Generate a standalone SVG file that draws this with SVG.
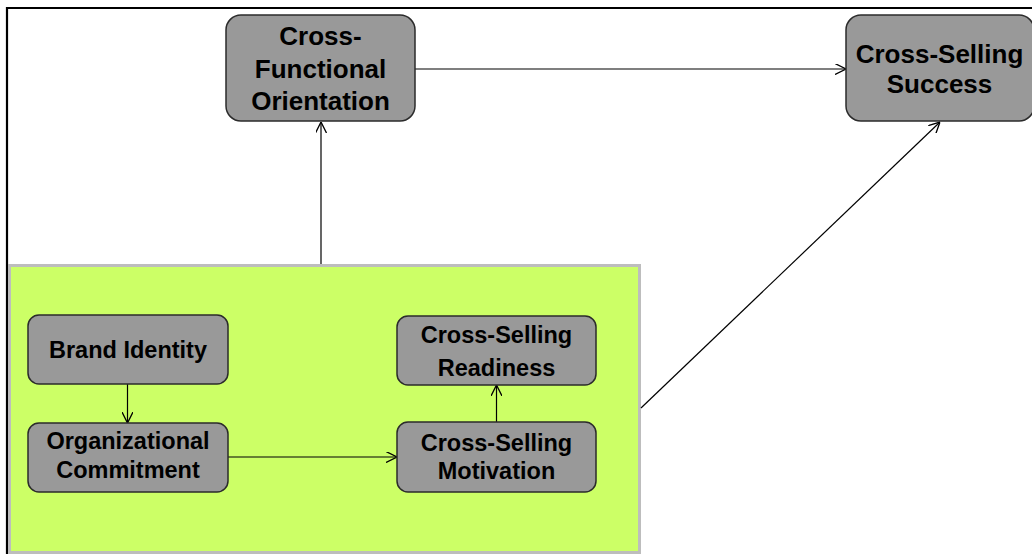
<svg xmlns="http://www.w3.org/2000/svg" width="1032" height="554" viewBox="0 0 1032 554">
  <style>
    .node rect { fill: #999999; stroke: #2b2b2b; stroke-width: 1.5; }
    .node text { font-family: "Liberation Sans", Arial, sans-serif; font-weight: bold; fill: #000; text-anchor: middle; }
    .big text { font-size: 26px; }
    .small text { font-size: 23.5px; }
    .edge { stroke: #000; stroke-width: 1.2; fill: none; marker-end: url(#open); }
  </style>
  <defs>
    <marker id="open" viewBox="0 0 10 10" refX="10" refY="5" markerWidth="11" markerHeight="11" markerUnits="userSpaceOnUse" orient="auto">
      <path d="M0,0 L10,5 L0,10" fill="none" stroke="#000" stroke-width="1.2"/>
    </marker>
  </defs>

  <rect x="0" y="0" width="1032" height="554" fill="#ffffff"/>

  <!-- outer frame (top and left edges) -->
  <path d="M7,554 V8 H1032" fill="none" stroke="#000" stroke-width="2.2"/>

  <!-- green grouping panel -->
  <g id="panel">
    <rect x="9.5" y="265.5" width="630" height="287" fill="#ccff66" stroke="#bdbdbd" stroke-width="3"/>
  </g>

  <!-- connectors -->
  <g id="connectors">
    <line class="edge" x1="321" y1="264" x2="321" y2="122"/>
    <line class="edge" x1="415" y1="69" x2="846" y2="69"/>
    <line class="edge" x1="641" y1="408" x2="940" y2="122"/>
    <line class="edge" x1="127.5" y1="384" x2="127.5" y2="423"/>
    <line class="edge" x1="228" y1="457" x2="397" y2="457"/>
    <line class="edge" x1="496.5" y1="422" x2="496.5" y2="385"/>
  </g>

  <g id="cross-functional-orientation" class="node big">
    <rect x="226" y="15" width="189" height="106" rx="15"/>
    <text x="320.5" y="45">Cross-</text>
    <text x="320.5" y="78">Functional</text>
    <text x="320.5" y="110">Orientation</text>
  </g>

  <g id="cross-selling-success" class="node big">
    <rect x="846" y="15" width="188" height="106" rx="15"/>
    <text x="939.5" y="63">Cross-Selling</text>
    <text x="939.5" y="93">Success</text>
  </g>

  <g id="brand-identity" class="node small">
    <rect x="28" y="315" width="200" height="69" rx="11"/>
    <text x="128" y="358">Brand Identity</text>
  </g>

  <g id="organizational-commitment" class="node small">
    <rect x="28" y="423" width="200" height="69" rx="11"/>
    <text x="128" y="449">Organizational</text>
    <text x="128" y="478">Commitment</text>
  </g>

  <g id="cross-selling-readiness" class="node small">
    <rect x="397" y="316" width="199" height="69" rx="11"/>
    <text x="496.5" y="343">Cross-Selling</text>
    <text x="496.5" y="376">Readiness</text>
  </g>

  <g id="cross-selling-motivation" class="node small">
    <rect x="397" y="422" width="199" height="70" rx="11"/>
    <text x="496.5" y="451">Cross-Selling</text>
    <text x="496.5" y="479">Motivation</text>
  </g>
</svg>
